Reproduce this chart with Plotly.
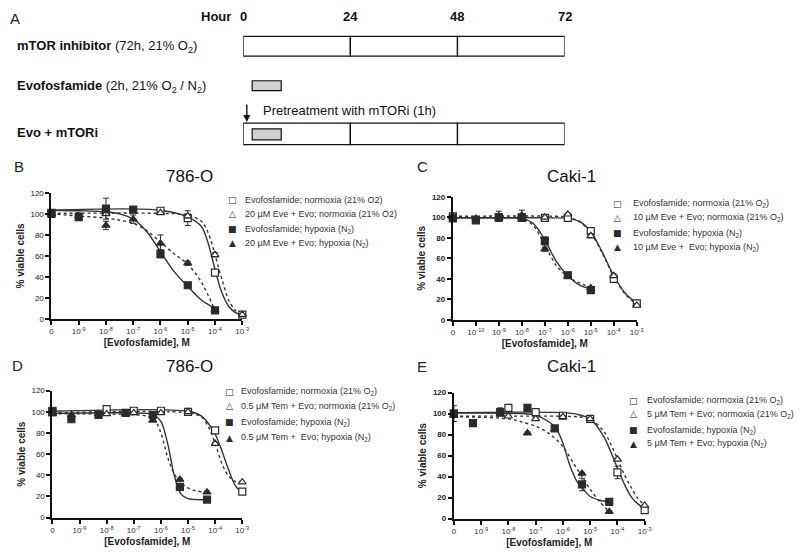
import plotly.graph_objects as go

W, H = 800, 559
FONT = "Liberation Sans, Arial, sans-serif"
DARK = "#2b2b2b"


def fx(p):
    return p / W


def fy(p):
    return 1 - p / H


# ---------------- Panel A: treatment schedule (hours) ----------------
HOUR_TICKS = [0, 24, 48, 72]
EVO_WINDOW = [2, 8.5]          # drawn evofosfamide exposure box (h)
PRETREAT_HOUR = 0.8            # arrow position (h)

# ---------------- Panel B: 786-O, 20 uM everolimus ----------------
B_TICKTEXT = ["0", "10<sup>-9</sup>", "10<sup>-8</sup>", "10<sup>-7</sup>", "10<sup>-6</sup>",
              "10<sup>-5</sup>", "10<sup>-4</sup>", "10<sup>-3</sup>"]
B_TICKVALS = [-10, -9, -8, -7, -6, -5, -4, -3]
B_X_NORM = [-10, -8, -6, -5, -4, -3]
B_EVO_NORM = [101, 102, 103, 96, 44, 4]
B_EVO_NORM_ERR = [2, 2, 3, 7, 2, 1]
B_EVE_NORM = [100, 100, 101, 98, 61, 4]
B_EVE_NORM_ERR = [1, 1, 1, 2, 2, 1]
B_X_HYP = [-10, -9, -8, -7, -6, -5, -4]
B_EVO_HYP = [100, 97, 105, 104, 62, 32, 8]
B_EVO_HYP_ERR = [2, 3, 10, 2, 4, 2, 2]
B_EVE_HYP = [100, 98, 89, 95, 72, 53, 8]
B_EVE_HYP_ERR = [1, 3, 4, 4, 8, 2, 1]
B_FIT_X_NORM = [-10, -6, -5, -4.5, -4.25, -4, -3.75, -3.5, -3.25, -3]
B_FIT_EVO_NORM = [103.5, 103.5, 97, 88, 72, 47, 25, 12, 6, 4]
B_FIT_EVE_NORM = [100.5, 100.5, 99, 93, 82, 61, 38, 18, 8, 4]
B_FIT_X_HYP = [-10, -9, -8, -7.5, -7, -6.5, -6, -5.5, -5, -4.5, -4]
B_FIT_EVO_HYP = [103.5, 103, 102, 100, 95, 83, 64, 45, 31, 18, 10]
B_FIT_EVE_HYP = [100, 98, 96, 94, 91, 84, 73, 62, 52, 35, 8]

# ---------------- Panel C: Caki-1, 10 uM everolimus ----------------
C_TICKTEXT = ["0", "10<sup>-10</sup>", "10<sup>-9</sup>", "10<sup>-8</sup>", "10<sup>-7</sup>",
              "10<sup>-6</sup>", "10<sup>-5</sup>", "10<sup>-4</sup>", "10<sup>-3</sup>"]
C_TICKVALS = [-11, -10, -9, -8, -7, -6, -5, -4, -3]
C_X_NORM = [-11, -9, -8, -7, -6, -5, -4, -3]
C_EVO_NORM = [101, 100, 100, 99.5, 99.5, 86.5, 40, 16]
C_EVO_NORM_ERR = [2, 1, 1, 1, 1, 2, 2, 2]
C_EVE_NORM = [101, 101, 102, 100, 103, 82, 43, 14]
C_EVE_NORM_ERR = [2, 5, 5, 1, 1, 2, 2, 2]
C_X_HYP = [-11, -10, -9, -8, -7, -6, -5]
C_EVO_HYP = [99, 97, 100, 99.5, 77, 43.5, 29]
C_EVO_HYP_ERR = [3, 2, 2, 2, 4, 2, 1]
C_EVE_HYP = [100, 99, 99, 101, 69, 42.5, 31]
C_EVE_HYP_ERR = [2, 2, 2, 2, 2, 2, 1]
C_FIT_X_NORM = [-11, -6.5, -6, -5.5, -5, -4.5, -4, -3.5, -3]
C_FIT_EVO_NORM = [99.5, 99.5, 99, 96, 86, 66, 43, 26, 16]
C_FIT_EVE_NORM = [101, 101, 100, 96, 85, 65, 42, 25, 15]
C_FIT_X_HYP = [-11, -8.5, -8, -7.5, -7, -6.5, -6, -5.5, -5]
C_FIT_EVO_HYP = [99.5, 99.5, 99, 94, 78, 57, 43, 34, 30]
C_FIT_EVE_HYP = [100, 100, 99, 92, 73, 53, 42, 36, 32]

# ---------------- Panel D: 786-O, 0.5 uM temsirolimus ----------------
D_TICKTEXT = B_TICKTEXT
D_TICKVALS = B_TICKVALS
D_X_NORM = [-10, -8, -7, -6, -5, -4, -3]
D_EVO_NORM = [100, 102.5, 101, 101, 100, 82.5, 24.5]
D_EVO_NORM_ERR = [1, 1, 1, 1, 1, 1, 1]
D_EVE_NORM = [98, 98, 99, 99, 100, 70, 33.5]
D_EVE_NORM_ERR = [1, 1, 1, 1, 1, 1, 1]
D_X_HYP = [-10, -9.3, -8.3, -7.3, -6.3, -5.3, -4.3]
D_EVO_HYP = [101, 93, 97, 99, 97, 29, 17]
D_EVO_HYP_ERR = [1, 1, 1, 1, 1, 1, 1]
D_EVE_HYP = [98, 97, 98, 98, 92, 36, 24]
D_EVE_HYP_ERR = [1, 1, 1, 1, 1, 1, 1]
D_FIT_X_NORM = [-10, -5, -4.5, -4.25, -4, -3.75, -3.5, -3.25, -3]
D_FIT_EVO_NORM = [100.5, 100.5, 96, 89, 79, 63, 45, 30, 23]
D_FIT_EVE_NORM = [99, 99, 95, 86, 70, 51, 39, 34, 33]
D_FIT_X_HYP = [-10, -6.5, -6.25, -6, -5.75, -5.5, -5.25, -5, -4.65, -4.3]
D_FIT_EVO_HYP = [98.5, 98.5, 97, 91, 70, 39, 22, 18, 17, 17]
D_FIT_EVE_HYP = [98, 96, 93, 80, 57, 41, 33, 28, 25, 24]

# ---------------- Panel E: Caki-1, 5 uM temsirolimus ----------------
E_TICKTEXT = B_TICKTEXT
E_TICKVALS = B_TICKVALS
E_X_NORM = [-10, -8, -7, -6, -5, -4, -3]
E_EVO_NORM = [100, 105.5, 101.5, 98, 95, 44, 8]
E_EVO_NORM_ERR = [2, 1, 1, 1, 1, 6, 1]
E_EVE_NORM = [98, 97.5, 95, 97, 95, 56.5, 12.5]
E_EVE_NORM_ERR = [1, 1, 1, 1, 1, 1, 1]
E_X_HYP = [-10, -9.3, -8.3, -7.3, -6.3, -5.3, -4.3]
E_EVO_HYP = [100, 91, 101.5, 105.5, 86, 32.5, 16]
E_EVO_HYP_ERR = [7.5, 1, 4, 1, 2, 6, 1]
E_X_HYP2 = [-10, -8.3, -7.3, -6.3, -5.3, -4.3]
E_EVE_HYP = [98, 100, 81.5, 85, 43, 6.5]
E_EVE_HYP_ERR = [1, 1, 1, 1, 1, 1]
E_FIT_X_NORM = [-10, -6, -5.5, -5, -4.5, -4, -3.75, -3.5, -3.25, -3]
E_FIT_EVO_NORM = [101, 101, 99.5, 95, 78, 48, 33, 21, 14, 9]
E_FIT_EVE_NORM = [97.5, 97.5, 97, 95, 83, 57, 42, 30, 19, 13]
E_FIT_X_HYP = [-10, -7.5, -7, -6.5, -6.25, -6, -5.75, -5.5, -5.25, -5, -4.65, -4.3]
E_FIT_EVO_HYP = [100.5, 100, 98.5, 92, 86, 72, 51, 36, 28, 21, 17.5, 16]
E_FIT_X_HYP2 = [-10, -9, -8, -7.5, -7, -6.5, -6, -5.5, -5.25, -5, -4.65, -4.3]
E_FIT_EVE_HYP = [97, 96.5, 95, 92, 88, 81, 68.5, 48, 38, 28, 16, 6.5]

LEG_B = ["Evofosfamide; normoxia (21% O2)", "20 µM Eve + Evo; normoxia (21% O2)",
         "Evofosfamide; hypoxia (N<sub>2</sub>)", "20 µM Eve + Evo; hypoxia (N<sub>2</sub>)"]
LEG_C = ["Evofosfamide; normoxia (21% O<sub>2</sub>)", "10 µM Eve + Evo; normoxia (21% O<sub>2</sub>)",
         "Evofosfamide; hypoxia (N<sub>2</sub>)", "10 µM Eve +  Evo; hypoxia (N<sub>2</sub>)"]
LEG_D = ["Evofosfamide; normoxia (21% O<sub>2</sub>)", "0.5 μM Tem + Evo; normoxia (21% O<sub>2</sub>)",
         "Evofosfamide; hypoxia (N<sub>2</sub>)", "0.5 μM Tem +  Evo; hypoxia (N<sub>2</sub>)"]
LEG_E = ["Evofosfamide; normoxia (21% O<sub>2</sub>)", "5 μM Tem + Evo; normoxia (21% O<sub>2</sub>)",
         "Evofosfamide; hypoxia (N<sub>2</sub>)", "5 μM Tem + Evo; hypoxia (N<sub>2</sub>)"]

fig = go.Figure()
annotations = []
shapes = []

panels = [
    dict(key="", letter="B", title="786-O", box=(50, 243, 192, 320), ticks=(B_TICKVALS, B_TICKTEXT),
         fitn=(B_FIT_X_NORM, B_FIT_EVO_NORM, B_FIT_EVE_NORM), fith=(B_FIT_X_HYP, B_FIT_EVO_HYP, B_FIT_X_HYP, B_FIT_EVE_HYP),
         pts=[(B_X_NORM, B_EVO_NORM, B_EVO_NORM_ERR), (B_X_NORM, B_EVE_NORM, B_EVE_NORM_ERR),
              (B_X_HYP, B_EVO_HYP, B_EVO_HYP_ERR), (B_X_HYP, B_EVE_HYP, B_EVE_HYP_ERR)],
         leg=LEG_B, legpos=(233, 244, [199, 213, 229, 243]), letterpos=(10, 165), titlepos=(190, 175), boldticks=False),
    dict(key="2", letter="C", title="Caki-1", box=(456, 642, 196, 321), ticks=(C_TICKVALS, C_TICKTEXT),
         fitn=(C_FIT_X_NORM, C_FIT_EVO_NORM, C_FIT_EVE_NORM), fith=(C_FIT_X_HYP, C_FIT_EVO_HYP, C_FIT_X_HYP, C_FIT_EVE_HYP),
         pts=[(C_X_NORM, C_EVO_NORM, C_EVO_NORM_ERR), (C_X_NORM, C_EVE_NORM, C_EVE_NORM_ERR),
              (C_X_HYP, C_EVO_HYP, C_EVO_HYP_ERR), (C_X_HYP, C_EVE_HYP, C_EVE_HYP_ERR)],
         leg=LEG_C, legpos=(623, 636, [203, 217, 233, 247]), letterpos=(418, 165), titlepos=(576, 175), boldticks=True),
    dict(key="3", letter="D", title="786-O", box=(51, 243, 393, 522), ticks=(D_TICKVALS, D_TICKTEXT),
         fitn=(D_FIT_X_NORM, D_FIT_EVO_NORM, D_FIT_EVE_NORM), fith=(D_FIT_X_HYP, D_FIT_EVO_HYP, D_FIT_X_HYP, D_FIT_EVE_HYP),
         pts=[(D_X_NORM, D_EVO_NORM, D_EVO_NORM_ERR), (D_X_NORM, D_EVE_NORM, D_EVE_NORM_ERR),
              (D_X_HYP, D_EVO_HYP, D_EVO_HYP_ERR), (D_X_HYP, D_EVE_HYP, D_EVE_HYP_ERR)],
         leg=LEG_D, legpos=(230, 240, [394, 409, 425, 441]), letterpos=(8, 367), titlepos=(190, 368), boldticks=False),
    dict(key="4", letter="E", title="Caki-1", box=(457, 650, 395, 523), ticks=(E_TICKVALS, E_TICKTEXT),
         fitn=(E_FIT_X_NORM, E_FIT_EVO_NORM, E_FIT_EVE_NORM), fith=(E_FIT_X_HYP, E_FIT_EVO_HYP, E_FIT_X_HYP2, E_FIT_EVE_HYP),
         pts=[(E_X_NORM, E_EVO_NORM, E_EVO_NORM_ERR), (E_X_NORM, E_EVE_NORM, E_EVE_NORM_ERR),
              (E_X_HYP, E_EVO_HYP, E_EVO_HYP_ERR), (E_X_HYP2, E_EVE_HYP, E_EVE_HYP_ERR)],
         leg=LEG_E, legpos=(639, 650, [403, 417, 433, 447]), letterpos=(418, 368), titlepos=(576, 368), boldticks=True),
]

SYMS = ["square", "triangle-up", "square", "triangle-up"]
FILLS = ["white", "white", DARK, DARK]
GLYPHS = ["□", "△", "■", "▲"]

layout_axes = {}
for p in panels:
    k = p["key"]
    xa, ya = "x" + k, "y" + k
    x0, x1, y0, y1 = p["box"]
    tv, tt = p["ticks"]
    fxn, fevo, feve = p["fitn"]
    hx1, hevo, hx2, heve = p["fith"]
    for xs, ys, dash in [(fxn, fevo, "solid"), (fxn, feve, "dot"), (hx1, hevo, "solid"), (hx2, heve, "dot")]:
        fig.add_trace(go.Scatter(x=xs, y=ys, mode="lines", xaxis=xa, yaxis=ya, showlegend=False,
                                 line=dict(color="#333333", width=1.4, dash=dash, shape="spline", smoothing=0.9),
                                 hoverinfo="skip"))
    for i, (xs, ys, err) in enumerate(p["pts"]):
        fig.add_trace(go.Scatter(x=xs, y=ys, mode="markers", xaxis=xa, yaxis=ya, showlegend=False,
                                 name=p["leg"][i],
                                 marker=dict(symbol=SYMS[i], size=7, color=FILLS[i],
                                             line=dict(color=DARK, width=1.2)),
                                 error_y=dict(type="data", array=err, thickness=1, width=3, color=DARK),
                                 cliponaxis=False))
    layout_axes["xaxis" + k] = dict(
        domain=[fx(x0), fx(x1)], range=[tv[0], tv[-1]], anchor=ya, tickvals=tv, ticktext=tt,
        showline=True, linewidth=2, linecolor="#111", ticks="outside", ticklen=4, tickwidth=2, tickcolor="#111",
        showgrid=False, zeroline=False, tickfont=dict(size=8, color="#333", family=FONT),
        title=dict(text="<b>[Evofosfamide], M</b>", font=dict(size=10, color="#222", family=FONT), standoff=4),
        fixedrange=True)
    layout_axes["yaxis" + k] = dict(
        domain=[fy(y1), fy(y0)], range=[0, 120], anchor=xa, tickvals=[0, 20, 40, 60, 80, 100, 120],
        showline=True, linewidth=2, linecolor="#111", ticks="outside", ticklen=4, tickwidth=2, tickcolor="#111",
        showgrid=False, zeroline=False,
        tickfont=dict(size=8, color="#222", family=FONT, weight="bold" if p["boldticks"] else "normal"),
        title=dict(text="<b>% viable cells</b>", font=dict(size=10, color="#222", family=FONT), standoff=4),
        fixedrange=True)
    lx, ly = p["letterpos"]
    annotations.append(dict(text=p["letter"], x=fx(lx), y=fy(ly), xref="paper", yref="paper",
                            showarrow=False, xanchor="left", yanchor="middle",
                            font=dict(size=15, color="#222", family=FONT)))
    tx, ty = p["titlepos"]
    annotations.append(dict(text=p["title"], x=fx(tx), y=fy(ty), xref="paper", yref="paper",
                            showarrow=False, xanchor="center", yanchor="middle",
                            font=dict(size=17, color="#111", family=FONT)))
    sx, txx, rows = p["legpos"]
    for i, ry in enumerate(rows):
        annotations.append(dict(text=GLYPHS[i], x=fx(sx), y=fy(ry), xref="paper", yref="paper",
                                showarrow=False, xanchor="center", yanchor="middle",
                                font=dict(size=9, color=DARK, family="DejaVu Sans")))
        annotations.append(dict(text=p["leg"][i], x=fx(txx), y=fy(ry), xref="paper", yref="paper",
                                showarrow=False, xanchor="left", yanchor="middle",
                                font=dict(size=9, color="#333", family=FONT)))

# ---------------- Panel A schematic ----------------
layout_axes["xaxis5"] = dict(domain=[fx(244), fx(569)], range=[0, 72], visible=False, anchor="y5", fixedrange=True)
layout_axes["yaxis5"] = dict(domain=[0.95, 1.0], range=[0, 1], visible=False, anchor="x5", fixedrange=True)
fig.add_trace(go.Scatter(x=HOUR_TICKS, y=[0.5] * len(HOUR_TICKS), mode="markers", xaxis="x5", yaxis="y5",
                         marker=dict(opacity=0), showlegend=False, hoverinfo="skip"))

annotations.append(dict(text="A", x=fx(6), y=fy(15), xref="paper", yref="paper", showarrow=False,
                        xanchor="left", yanchor="middle", font=dict(size=15, color="#222", family=FONT)))
annotations.append(dict(text="<b>Hour</b>", x=fx(234), y=fy(13), xref="paper", yref="paper", showarrow=False,
                        xanchor="right", yanchor="middle", font=dict(size=13, color="#111", family=FONT)))
for h in HOUR_TICKS:
    annotations.append(dict(text="<b>%d</b>" % h, x=h, y=fy(13), xref="x5", yref="paper", showarrow=False,
                            xanchor="center", yanchor="middle", font=dict(size=13, color="#111", family=FONT)))

rows_A = [
    ("<b>mTOR inhibitor</b> (72h, 21% O<sub>2</sub>)", 43),
    ("<b>Evofosfamide</b> (2h, 21% O<sub>2</sub> / N<sub>2</sub>)", 84),
    ("<b>Evo + mTORi</b>", 131),
]
for txt, yy in rows_A:
    annotations.append(dict(text=txt, x=fx(13), y=fy(yy), xref="paper", yref="paper", showarrow=False,
                            xanchor="left", yanchor="middle", font=dict(size=13, color="#111", family=FONT)))

for (top, bot) in [(33, 53), (121, 143)]:
    for a, b in zip(HOUR_TICKS[:-1], HOUR_TICKS[1:]):
        shapes.append(dict(type="rect", xref="x5", yref="paper", x0=a, x1=b, y0=fy(bot), y1=fy(top),
                           line=dict(color="#111", width=1.3), fillcolor="white"))
for (top, bot) in [(78, 88), (127, 138)]:
    shapes.append(dict(type="rect", xref="x5", yref="paper", x0=EVO_WINDOW[0], x1=EVO_WINDOW[1],
                       y0=fy(bot), y1=fy(top), line=dict(color="#111", width=1.2), fillcolor="#d0d0d0"))

annotations.append(dict(text="", x=PRETREAT_HOUR, y=fy(120), xref="x5", yref="paper", ax=0, ay=-19,
                        showarrow=True, arrowhead=2, arrowsize=1, arrowwidth=1.4, arrowcolor="#111"))
annotations.append(dict(text="Pretreatment with mTORi (1h)", x=fx(262), y=fy(108), xref="paper", yref="paper",
                        showarrow=False, xanchor="left", yanchor="middle",
                        font=dict(size=13, color="#111", family=FONT)))

fig.update_layout(
    width=W, height=H, margin=dict(l=0, r=0, t=0, b=0),
    paper_bgcolor="white", plot_bgcolor="white", showlegend=False,
    font=dict(family=FONT, color="#222"),
    annotations=annotations, shapes=shapes, **layout_axes)

fig.write_html("out.html", config={"displayModeBar": False},
               post_script="document.body.style.margin='0';document.body.style.overflow='hidden';")
